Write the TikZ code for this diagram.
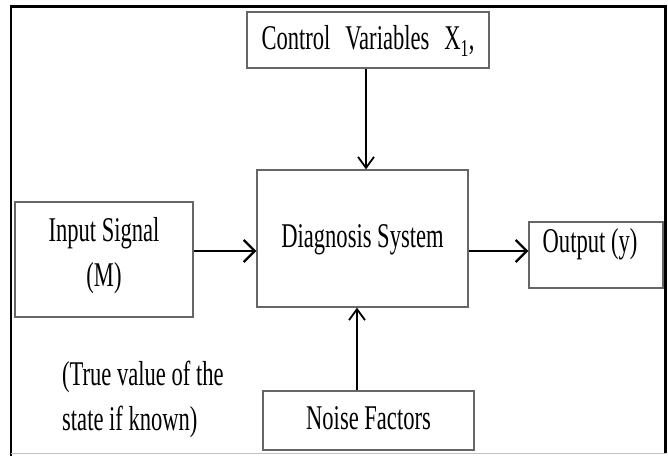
\documentclass[tikz,border=0pt]{standalone}
\usepackage{fontspec}
\usepackage{graphicx}
\setmainfont{Liberation Serif}
\usetikzlibrary{arrows.meta}
% schmale Schrift
\newcommand{\schmal}[1]{\scalebox{0.65}[1]{\begin{tabular}{@{}c@{}}#1\end{tabular}}}
\newcommand{\schmallinks}[1]{\scalebox{0.65}[1]{\begin{tabular}{@{}l@{}}#1\end{tabular}}}
\begin{document}
\begin{tikzpicture}[x=1pt, y=-1pt,
	kasten/.style={draw=black!60, line width=1.2pt, fill=white, inner sep=0pt},
	schrift/.style={font=\fontsize{34.7}{45}\selectfont, inner sep=0pt},
	pfeildick/.style={-{Straight Barb[length=11pt, width=22pt, line width=2.4pt]}, line width=2.4pt},
	pfeilduenn/.style={-{Straight Barb[length=11pt, width=16pt, line width=1.8pt]}, line width=1.8pt}]
	\useasboundingbox (0,0) rectangle (668,456);
	% Rahmen
	\draw[line width=2.5pt] (11,456) -- (11,6.5) -- (665.5,6.5) -- (665.5,453);
	\draw[black!25, line width=1pt] (11,453.5) -- (665.5,453.5);

	% Kaesten
	\node[kasten, schrift, minimum width=242pt, minimum height=56pt] (ctrl) at (368, 40)
		{\schmal{Control\hspace{23pt}Variables\hspace{23pt}X\textsubscript{1},}};
	\node[kasten, schrift, minimum width=211pt, minimum height=137pt] (main) at (362.5, 238.5)
		{\schmal{Diagnosis System}};
	\node[kasten, minimum width=178pt, minimum height=115pt] (input) at (104, 259.5) {};
	\node[schrift] (inputtext) at (104, 255) {\schmal{Input Signal\\(M)}};
	\node[kasten, minimum width=134pt, minimum height=66pt] (output) at (596, 255) {};
	\node[schrift] (outputtext) at (590, 243) {\schmal{Output (y)}};
	\node[kasten, schrift, minimum width=211pt, minimum height=59pt] (noise) at (368.5, 420.5)
		{\schmal{Noise Factors}};

	% freier Text
	\node[schrift, anchor=west] (wahr) at (62, 398.5)
		{\schmallinks{(True value of the\\state if known)}};

	% Pfeile
	\coordinate (zeile) at (0, 251);
	\coordinate (spalteoben) at (366, 0);
	\coordinate (spalteunten) at (357, 0);
	\draw[pfeildick] (input.east |- zeile) -- (main.west |- zeile);
	\draw[pfeildick] (main.east |- zeile) -- (output.west |- zeile);
	\draw[pfeilduenn] (ctrl.south -| spalteoben) -- (main.north -| spalteoben);
	\draw[pfeilduenn] (noise.north -| spalteunten) -- (main.south -| spalteunten);
\end{tikzpicture}
\end{document}
